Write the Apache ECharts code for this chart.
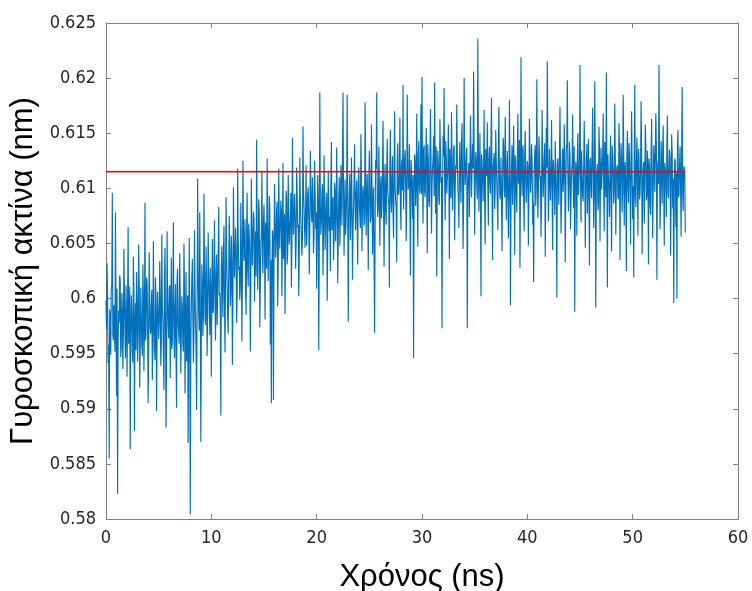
<!DOCTYPE html>
<html><head><meta charset="utf-8">
<script src="https://cdn.jsdelivr.net/npm/echarts@6/dist/echarts.min.js"></script>
<style>html,body{margin:0;padding:0;background:#fff}#c{width:752px;height:591px}</style>
</head><body><div id="c"></div>
<script>
// Time sampling (ns): r* at whole tenths, m* half-way between them
const tStart = 0, tStep = 0.1;
// Radius of gyration (nm), 5 ns blocks
const r00 = [0.5998,0.6032,0.5941,0.5855,0.5978,0.6008,0.6096,0.5962,0.5993,0.6078,0.5912,0.5823,0.5989,0.6021,0.5947,0.6005,0.5936,0.6045,0.5968,0.6012,0.5929,0.6065,0.5974,0.5863,0.6003,0.5951,0.6038,0.5880,0.5996,0.6024,0.5943,0.6049,0.5919,0.6010,0.5958,0.6031,0.5934,0.6087,0.5967,0.6015,0.5905,0.6042,0.5972,0.5998,0.5926,0.6052,0.5955,0.6019,0.5898,0.6006];
const r05 = [0.5963,0.6034,0.5939,0.6058,0.5981,0.5917,0.6046,0.5883,0.6061,0.5975,0.6009,0.5928,0.6037,0.5960,0.6069,0.5946,0.6013,0.5901,0.6027,0.5968,0.6041,0.5932,0.6002,0.5957,0.6050,0.5914,0.6024,0.5975,0.5869,0.6055,0.5804,0.5993,0.6036,0.5942,0.6062,0.5979,0.5899,0.6109,0.5987,0.6078,0.5870,0.6031,0.5966,0.6095,0.5983,0.6047,0.5948,0.6060,0.5995,0.6028];
const r10 = [0.5929,0.6054,0.5990,0.6071,0.5962,0.6040,0.5976,0.6083,0.6005,0.5894,0.6048,0.5983,0.6066,0.5951,0.6092,0.6012,0.5968,0.6075,0.5993,0.6057,0.5940,0.6101,0.6019,0.6064,0.5978,0.6118,0.6026,0.5999,0.6087,0.5961,0.6125,0.6034,0.6072,0.5985,0.6096,0.6011,0.6058,0.5952,0.6109,0.6030,0.6079,0.5997,0.6061,0.6144,0.6008,0.6090,0.5974,0.6052,0.6116,0.6023];
const r15 = [0.6085,0.5981,0.6070,0.6127,0.6016,0.6093,0.5958,0.5905,0.6062,0.5908,0.6104,0.6037,0.6081,0.5993,0.6118,0.6045,0.6089,0.6002,0.6123,0.6056,0.5986,0.6098,0.6031,0.6112,0.6049,0.6076,0.6010,0.6146,0.6058,0.6095,0.6027,0.6119,0.6064,0.6002,0.6128,0.6072,0.6039,0.6156,0.6083,0.6046,0.6121,0.6068,0.6101,0.6022,0.6134,0.6077,0.6110,0.6041,0.6125,0.6063];
const r20 = [0.6009,0.6112,0.5953,0.6187,0.6058,0.6097,0.6021,0.6130,0.6044,0.6089,0.5998,0.6116,0.6061,0.6025,0.6142,0.6070,0.6035,0.6105,0.6052,0.6137,0.6014,0.6093,0.6048,0.6121,0.6066,0.6187,0.6039,0.6108,0.6071,0.6185,0.5979,0.6096,0.6053,0.6128,0.6017,0.6084,0.6140,0.6062,0.6107,0.6031,0.6119,0.6075,0.6149,0.6043,0.6102,0.6066,0.6178,0.6057,0.6113,0.6026];
const r25 = [0.6134,0.6069,0.6158,0.6040,0.6101,0.5969,0.6126,0.6187,0.6074,0.6138,0.6048,0.6111,0.6083,0.6161,0.6029,0.6122,0.6067,0.6145,0.6091,0.6010,0.6153,0.6078,0.6129,0.6055,0.6170,0.6088,0.6033,0.6141,0.6097,0.6164,0.6062,0.6126,0.6194,0.6081,0.6135,0.6052,0.6185,0.6099,0.6140,0.6021,0.6117,0.6072,0.5946,0.6131,0.6084,0.6168,0.6047,0.6143,0.6095,0.6176];
const r30 = [0.6201,0.6068,0.6139,0.6092,0.6155,0.6041,0.6127,0.6083,0.6172,0.6059,0.6118,0.6147,0.6196,0.6077,0.6020,0.6134,0.6089,0.6163,0.6105,0.5973,0.6148,0.6191,0.6071,0.6129,0.6094,0.6158,0.6036,0.6112,0.6169,0.6080,0.6137,0.6053,0.6121,0.6176,0.6098,0.6064,0.6142,0.6087,0.6159,0.6045,0.6200,0.6103,0.6131,0.5973,0.6115,0.6074,0.6166,0.6092,0.6140,0.6206];
const r35 = [0.6058,0.6133,0.6101,0.6236,0.6079,0.6150,0.6002,0.6124,0.6088,0.6171,0.6049,0.6117,0.6160,0.6066,0.6138,0.6095,0.6182,0.6035,0.6126,0.6081,0.6153,0.6107,0.6062,0.6174,0.6090,0.6128,0.6043,0.6146,0.6099,0.6165,0.6071,0.6134,0.6055,0.6180,0.5994,0.6119,0.6085,0.6157,0.6040,0.6123,0.6078,0.6168,0.6104,0.6028,0.6219,0.6093,0.6139,0.6061,0.6152,0.6087];
const r40 = [0.6125,0.6048,0.6163,0.6096,0.6140,0.6067,0.6015,0.6131,0.6084,0.6199,0.6073,0.6147,0.6108,0.6056,0.6171,0.6092,0.6129,0.6038,0.6155,0.6215,0.6070,0.6136,0.6089,0.6162,0.6044,0.6118,0.6076,0.6143,0.6001,0.6127,0.6085,0.6174,0.6059,0.6121,0.6097,0.6158,0.6033,0.6135,0.6198,0.6079,0.6142,0.6063,0.6116,0.6167,0.6082,0.5988,0.6124,0.6057,0.6150,0.6094];
const r45 = [0.6212,0.6069,0.6133,0.6088,0.6161,0.6046,0.6120,0.6077,0.6145,0.6030,0.6128,0.6091,0.6173,0.6064,0.6197,0.5992,0.6115,0.6080,0.6156,0.6052,0.6137,0.6099,0.6168,0.6061,0.6126,0.6205,0.6010,0.6109,0.6074,0.6148,0.6043,0.6130,0.6086,0.6177,0.6058,0.6119,0.6093,0.6159,0.6035,0.6141,0.6078,0.6185,0.6066,0.6124,0.6025,0.6152,0.6087,0.6132,0.6049,0.6170];
const r50 = [0.6072,0.6019,0.6194,0.6083,0.6146,0.6057,0.6128,0.6095,0.6179,0.6040,0.6117,0.6068,0.6158,0.6089,0.6134,0.6031,0.6122,0.6076,0.6163,0.6055,0.6139,0.6097,0.6168,0.6017,0.6125,0.6212,0.6063,0.6143,0.6086,0.6157,0.6048,0.6118,0.6074,0.6166,0.6091,0.6135,0.6039,0.6149,0.6082,0.5996,0.6127,0.6065,0.6000,0.6153,0.6094,0.6138,0.6056,0.6192,0.6079,0.6120,0.6060];
const m00 = [0.5972,0.6001,0.5958,0.5990,0.5949,0.6013,0.5967,0.5994,0.5952,0.5986,0.6009,0.5961,0.5978,0.6017,0.5955,0.5991,0.5969,0.6003,0.5946,0.5983,0.5997,0.5959,0.6011,0.5966,0.5988,0.5942,0.6006,0.5974,0.5953,0.5999,0.5970,0.6014,0.5957,0.5985,0.5948,0.6002,0.5976,0.5962,0.6019,0.5980,0.5951,0.5995,0.5968,0.6008,0.5956,0.5982,0.5944,0.6000,0.5971,0.5987];
const m05 = [0.5979,0.6004,0.5960,0.5993,0.5950,0.6016,0.5973,0.5945,0.5998,0.5964,0.6012,0.5981,0.5954,0.6007,0.5969,0.5990,0.5947,0.6018,0.5977,0.5959,0.6001,0.5966,0.5992,0.5952,0.6010,0.5975,0.5943,0.6003,0.5963,0.5986,0.5957,0.6020,0.5980,0.5968,0.6009,0.5955,0.5994,0.6026,0.5971,0.6005,0.5962,0.6015,0.5983,0.6031,0.5976,0.6011,0.5989,0.6024,0.5967,0.6008];
const m10 = [0.6014,0.5987,0.6032,0.5998,0.6021,0.5976,0.6039,0.6003,0.5991,0.6027,0.6010,0.6043,0.5995,0.6018,0.6036,0.5984,0.6025,0.6049,0.6007,0.6033,0.5997,0.6052,0.6019,0.6038,0.6004,0.6058,0.6029,0.6011,0.6047,0.6022,0.6063,0.6035,0.6009,0.6054,0.6026,0.6068,0.6040,0.6015,0.6059,0.6031,0.6072,0.6044,0.6020,0.6066,0.6037,0.6079,0.6012,0.6057,0.6041,0.6070];
const m15 = [0.6048,0.6069,0.6027,0.6061,0.6043,0.6082,0.6035,0.6018,0.6056,0.6039,0.6074,0.6051,0.6088,0.6030,0.6066,0.6045,0.6080,0.6059,0.6036,0.6077,0.6052,0.6091,0.6041,0.6070,0.6063,0.6096,0.6047,0.6084,0.6058,0.6075,0.6050,0.6093,0.6067,0.6042,0.6087,0.6071,0.6055,0.6099,0.6064,0.6081,0.6048,0.6094,0.6073,0.6060,0.6102,0.6069,0.6086,0.6057,0.6097,0.6078];
const m20 = [0.6065,0.6090,0.6052,0.6083,0.6071,0.6104,0.6059,0.6087,0.6068,0.6096,0.6049,0.6081,0.6074,0.6107,0.6062,0.6092,0.6055,0.6099,0.6077,0.6085,0.6060,0.6110,0.6073,0.6094,0.6066,0.6101,0.6079,0.6058,0.6098,0.6084,0.6069,0.6113,0.6076,0.6091,0.6061,0.6105,0.6082,0.6095,0.6070,0.6108,0.6087,0.6064,0.6112,0.6080,0.6097,0.6072,0.6116,0.6089,0.6078,0.6103];
const m25 = [0.6093,0.6075,0.6111,0.6086,0.6100,0.6068,0.6118,0.6091,0.6082,0.6107,0.6096,0.6073,0.6120,0.6088,0.6104,0.6079,0.6114,0.6099,0.6085,0.6123,0.6092,0.6109,0.6077,0.6117,0.6101,0.6083,0.6125,0.6094,0.6110,0.6087,0.6121,0.6098,0.6081,0.6128,0.6103,0.6090,0.6119,0.6106,0.6084,0.6126,0.6097,0.6112,0.6089,0.6124,0.6108,0.6093,0.6130,0.6102,0.6115,0.6095];
const m30 = [0.6112,0.6135,0.6097,0.6124,0.6106,0.6140,0.6089,0.6119,0.6131,0.6101,0.6127,0.6093,0.6116,0.6138,0.6104,0.6122,0.6085,0.6133,0.6110,0.6098,0.6129,0.6107,0.6143,0.6095,0.6120,0.6113,0.6136,0.6091,0.6125,0.6108,0.6139,0.6100,0.6117,0.6132,0.6094,0.6121,0.6105,0.6141,0.6111,0.6087,0.6128,0.6114,0.6137,0.6099,0.6123,0.6109,0.6134,0.6092,0.6118,0.6130];
const m35 = [0.6103,0.6126,0.6090,0.6138,0.6115,0.6096,0.6131,0.6108,0.6122,0.6088,0.6136,0.6111,0.6099,0.6127,0.6105,0.6142,0.6093,0.6119,0.6132,0.6101,0.6124,0.6086,0.6137,0.6113,0.6098,0.6129,0.6106,0.6140,0.6092,0.6121,0.6110,0.6133,0.6097,0.6125,0.6089,0.6139,0.6116,0.6102,0.6130,0.6094,0.6123,0.6107,0.6144,0.6100,0.6118,0.6134,0.6091,0.6128,0.6112,0.6104];
const m40 = [0.6120,0.6095,0.6133,0.6109,0.6127,0.6087,0.6116,0.6139,0.6102,0.6124,0.6098,0.6135,0.6111,0.6090,0.6130,0.6106,0.6141,0.6096,0.6119,0.6128,0.6093,0.6137,0.6114,0.6100,0.6126,0.6108,0.6143,0.6091,0.6122,0.6104,0.6132,0.6117,0.6088,0.6136,0.6110,0.6125,0.6097,0.6140,0.6113,0.6101,0.6129,0.6092,0.6121,0.6107,0.6138,0.6099,0.6115,0.6131,0.6094,0.6123];
const m45 = [0.6106,0.6134,0.6093,0.6119,0.6128,0.6097,0.6140,0.6111,0.6089,0.6125,0.6103,0.6137,0.6116,0.6095,0.6130,0.6108,0.6122,0.6086,0.6135,0.6112,0.6099,0.6127,0.6105,0.6142,0.6092,0.6118,0.6131,0.6101,0.6124,0.6088,0.6139,0.6114,0.6096,0.6129,0.6107,0.6121,0.6090,0.6136,0.6110,0.6126,0.6098,0.6133,0.6117,0.6094,0.6128,0.6104,0.6141,0.6100,0.6120,0.6113];
const m50 = [0.6102,0.6129,0.6094,0.6121,0.6108,0.6136,0.6090,0.6117,0.6131,0.6099,0.6124,0.6106,0.6140,0.6093,0.6115,0.6127,0.6087,0.6133,0.6110,0.6101,0.6126,0.6096,0.6138,0.6112,0.6104,0.6130,0.6091,0.6119,0.6135,0.6098,0.6123,0.6107,0.6142,0.6095,0.6118,0.6128,0.6089,0.6132,0.6109,0.6100,0.6125,0.6114,0.6137,0.6092,0.6120,0.6103,0.6134,0.6097,0.6116,0.6111];
// Mean line
const meanValue = [0.6115];
const meanRange = [0, 55];
// Axis ticks: min, max, interval
const xTicks = [0, 60, 10];
const yTicks = [0.58, 0.625, 0.005];

const rg = [].concat(r00, r05, r10, r15, r20, r25, r30, r35, r40, r45, r50);
const mid = [].concat(m00, m05, m10, m15, m20, m25, m30, m35, m40, m45, m50);
const series = [];
rg.forEach((v, i) => {
  const t = tStart + i * tStep;
  series.push([+t.toFixed(2), v]);
  if (i < mid.length) series.push([+(t + tStep / 2).toFixed(2), mid[i]]);
});
const meanLine = meanRange.map(t => [t, meanValue[0]]);

const txt = '#262626', ax = '#808080';
const font = 'Liberation Sans, Arial, Helvetica, sans-serif';
const narrow = "'Liberation Sans Narrow', 'Arial Narrow', 'DejaVu Sans Condensed', Arial, sans-serif";
const chart = echarts.init(document.getElementById('c'), null, {renderer: 'canvas'});
const baseX = {type: 'value', min: xTicks[0], max: xTicks[1], interval: xTicks[2],
  axisLine: {show: true, onZero: false, lineStyle: {color: ax, width: 1}},
  axisTick: {show: true, inside: true, length: 5, lineStyle: {color: ax}},
  splitLine: {show: false}};
const baseY = {type: 'value', min: yTicks[0], max: yTicks[1], interval: yTicks[2],
  axisLine: {show: true, onZero: false, lineStyle: {color: ax, width: 1}},
  axisTick: {show: true, inside: true, length: 5, lineStyle: {color: ax}},
  splitLine: {show: false}};
chart.setOption({
  animation: false,
  backgroundColor: '#fff',
  color: ['#0072BD', '#ff0000'],
  grid: {left: 106, right: 14, top: 23, bottom: 72, containLabel: false, outerBoundsMode: 'none'},
  xAxis: [
    Object.assign({}, baseX, {position: 'bottom',
      axisLabel: {show: true, color: txt, fontSize: 18, fontFamily: narrow, margin: 10},
      name: 'Χρόνος (ns)', nameLocation: 'middle', nameGap: 43,
      nameTextStyle: {color: '#000', fontSize: 31, fontFamily: font}}),
    Object.assign({}, baseX, {position: 'top', axisLabel: {show: false}})
  ],
  yAxis: [
    Object.assign({}, baseY, {position: 'left',
      axisLabel: {show: true, color: txt, fontSize: 18, fontFamily: narrow, margin: 10},
      name: 'Γυροσκοπική ακτίνα (nm)', nameLocation: 'middle', nameGap: 49,
      nameTextStyle: {color: '#000', fontSize: 31, fontFamily: font}}),
    Object.assign({}, baseY, {position: 'right', axisLabel: {show: false}})
  ],
  series: [
    {type: 'line', name: 'rg', data: series, xAxisIndex: 0, yAxisIndex: 0, showSymbol: false, symbol: 'none',
      sampling: null, color: '#0072BD', itemStyle: {color: '#0072BD'},
      lineStyle: {color: '#0072BD', width: 1.15}, z: 2},
    {type: 'line', name: 'mean', data: meanLine, xAxisIndex: 0, yAxisIndex: 0, showSymbol: false, symbol: 'none',
      color: '#ff0000', itemStyle: {color: '#ff0000'}, zlevel: 1,
      lineStyle: {color: '#ff0000', width: 1.5}, z: 5}
  ]
});
</script></body></html>
